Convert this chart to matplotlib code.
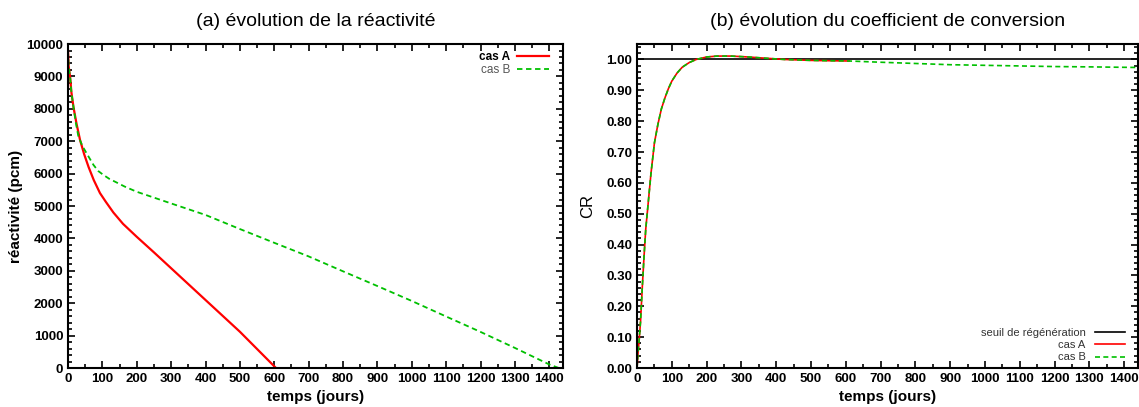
import matplotlib.pyplot as plt
from matplotlib.ticker import MultipleLocator, FormatStrFormatter

plt.rcParams['font.family'] = ['Liberation Sans', 'DejaVu Sans']

# reactivite (pcm) vs temps (jours)
tA = [0, 2, 6, 10, 16, 25, 35, 47, 60, 75, 93, 110, 132, 160, 200, 250, 300, 400,
      500, 605]
rhoA = [9800, 9300, 9000, 8500, 8050, 7530, 7040, 6600, 6200, 5800, 5400, 5130, 4800,
        4450, 4050, 3570, 3080, 2100, 1120, 0]
tB = [0, 2, 6, 10, 16, 23, 30, 42, 54, 74, 88, 103, 120, 137, 165, 200, 300, 400, 500,
      600, 700, 800, 900, 1000, 1100, 1200, 1300, 1400, 1428]
rhoB = [9800, 9300, 9000, 8500, 8050, 7560, 7160, 6850, 6630, 6270, 6080, 5960, 5840,
        5750, 5600, 5440, 5080, 4725, 4290, 3865, 3445, 2985, 2530, 2070, 1590, 1115,
        620, 110, 0]

# coefficient de conversion
tcA = [0, 3, 6, 10, 15, 20, 25, 30, 35, 40, 50, 60, 70, 80, 90, 100, 115, 130, 150,
       170, 200, 230, 270, 320, 370, 424, 500, 550, 610]
crA = [0.0, 0.05, 0.09, 0.15, 0.26, 0.36, 0.45, 0.51, 0.57, 0.63, 0.73, 0.79, 0.84,
       0.875, 0.905, 0.93, 0.956, 0.975, 0.99, 1.0, 1.008, 1.011, 1.011, 1.008, 1.004,
       1.0, 0.997, 0.996, 0.995]
tcB = tcA + [700, 800, 900, 1000, 1100, 1200, 1300, 1440]
crB = crA + [0.991, 0.987, 0.983, 0.981, 0.979, 0.977, 0.976, 0.974]
seuil = 1.0

red = '#ff0000'
green = '#00c000'

fig = plt.figure(figsize=(11.39, 4.07), dpi=100)
ax1 = fig.add_axes([0.0597, 0.0958, 0.4346, 0.796])
ax2 = fig.add_axes([0.5593, 0.0958, 0.4399, 0.796])


def style(ax):
    ax.set_xlim(0, 1440)
    ax.xaxis.set_major_locator(MultipleLocator(100))
    ax.xaxis.set_minor_locator(MultipleLocator(50))
    ax.tick_params(which='both', direction='in', top=True, right=True, width=1.2)
    ax.tick_params(which='major', length=5, labelsize=9.5)
    ax.tick_params(which='minor', length=3)
    for lab in ax.get_xticklabels() + ax.get_yticklabels():
        lab.set_fontweight('bold')
    for s in ax.spines.values():
        s.set_linewidth(1.5)
    ax.set_xlabel('temps (jours)', fontsize=11, fontweight='bold', labelpad=4)


ax1.plot(tA, rhoA, color=red, lw=1.6, label='cas A')
ax1.plot(tB, rhoB, color=green, lw=1.3, dashes=(3, 2), label='cas B')
ax1.set_ylim(0, 10000)
ax1.yaxis.set_major_locator(MultipleLocator(1000))
ax1.yaxis.set_minor_locator(MultipleLocator(200))
style(ax1)
ax1.set_ylabel('réactivité (pcm)', fontsize=11, fontweight='bold', labelpad=2)
ax1.set_title('(a) évolution de la réactivité', fontsize=14, pad=13)
leg1 = ax1.legend(loc='upper right', bbox_to_anchor=(0.986, 1.0), frameon=False,
                  markerfirst=False, fontsize=8.5, handlelength=2.7,
                  handletextpad=0.6, labelspacing=0.05, borderaxespad=0.2)
leg1.get_texts()[0].set_fontweight('bold')
leg1.get_texts()[1].set_color('#555555')

ax2.axhline(seuil, color='black', lw=1.2, label='seuil de régénération')
ax2.plot(tcA, crA, color=red, lw=1.2, label='cas A')
ax2.plot(tcB, crB, color=green, lw=1.2, dashes=(3, 2), label='cas B')
ax2.set_ylim(0, 1.05)
ax2.yaxis.set_major_locator(MultipleLocator(0.1))
ax2.yaxis.set_minor_locator(MultipleLocator(0.02))
ax2.yaxis.set_major_formatter(FormatStrFormatter('%.2f'))
style(ax2)
ax2.set_ylabel('CR', fontsize=12, labelpad=8)
ax2.set_title('(b) évolution du coefficient de conversion', fontsize=14, pad=13)
leg2 = ax2.legend(loc='lower right', bbox_to_anchor=(0.984, 0.0), frameon=False,
                  markerfirst=False, fontsize=8, handlelength=2.7,
                  handletextpad=0.8, labelspacing=0.2, borderaxespad=0.1)
for t in leg2.get_texts():
    t.set_color('#333333')

fig.savefig('out.png', dpi=100)
